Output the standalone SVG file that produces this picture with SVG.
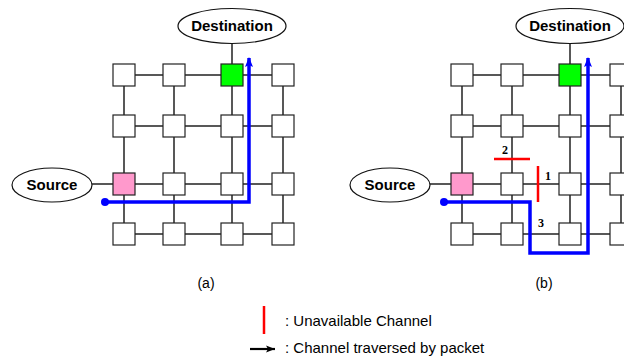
<svg xmlns="http://www.w3.org/2000/svg" width="624" height="356" viewBox="0 0 624 356">
<style>
.box{fill:#fff;stroke:#222;stroke-width:1.2}
.src{fill:#ff99cc}
.dst{fill:#00ff00}
.ell{fill:#fff;stroke:#111;stroke-width:1.2}
.link{stroke:#222;stroke-width:1.5;fill:none}
.path{stroke:#0000ff;stroke-width:3.5;fill:none;stroke-linejoin:miter}
.bad{stroke:#ff0000;stroke-width:2.5}
.lbl{font-family:"Liberation Sans",Arial,sans-serif;font-weight:bold;font-size:15px;text-anchor:middle}
.num{font-family:"Liberation Serif","Times New Roman",serif;font-weight:bold;font-size:12px}
.cap{font-family:"Liberation Sans",Arial,sans-serif;font-size:14px;text-anchor:middle}
.leg{font-family:"Liberation Sans",Arial,sans-serif;font-size:15px}
</style>
<defs>
<marker id="ab" markerUnits="userSpaceOnUse" markerWidth="10" markerHeight="10" viewBox="0 0 10 10" refX="9" refY="5" orient="auto">
<path d="M0,1 L10,5 L0,9 L2,5 Z" fill="#0000ff"/>
</marker>
<marker id="ak" markerUnits="userSpaceOnUse" markerWidth="9" markerHeight="8" viewBox="0 0 9 8" refX="9" refY="4" orient="auto">
<path d="M0,0.5 L9,4 L0,7.5 L2,4 Z" fill="#000"/>
</marker>
</defs>

<g id="connectors">
<path class="link" d="M124,75H283M124,126H283M92,184H283M124,234H283M124,75V234M174,75V234M232,43V234M283,75V234"/>
<path class="link" d="M462,75H630M462,126H630M430,184H630M462,234H630M462,75V234M512,75V234M570,43V234M621,75V234"/>
<path class="path" d="M105,202H249V58" marker-end="url(#ab)"/>
<circle cx="105" cy="202" r="4" fill="#0000ff"/>
<path class="path" d="M444,202H530V253H588V58" marker-end="url(#ab)"/>
<circle cx="444" cy="202" r="4" fill="#0000ff"/>
</g>

<g id="dest-a"><ellipse class="ell" cx="232" cy="26" rx="54" ry="17.5"/><text class="lbl" x="232" y="31">Destination</text></g>
<g id="source-a"><ellipse class="ell" cx="52" cy="185" rx="40" ry="17"/><text class="lbl" x="52" y="190">Source</text></g>
<g id="dest-b"><ellipse class="ell" cx="570" cy="26" rx="54" ry="17.5"/><text class="lbl" x="570" y="31">Destination</text></g>
<g id="source-b"><ellipse class="ell" cx="390" cy="185" rx="40" ry="17"/><text class="lbl" x="390" y="190">Source</text></g>

<g id="nodes-a">
<rect class="box" x="113" y="64" width="22" height="22"/>
<rect class="box" x="163" y="64" width="22" height="22"/>
<rect class="box dst" x="221" y="64" width="22" height="22"/>
<rect class="box" x="272" y="64" width="22" height="22"/>
<rect class="box" x="113" y="115" width="22" height="22"/>
<rect class="box" x="163" y="115" width="22" height="22"/>
<rect class="box" x="221" y="115" width="22" height="22"/>
<rect class="box" x="272" y="115" width="22" height="22"/>
<rect class="box src" x="113" y="173" width="22" height="22"/>
<rect class="box" x="163" y="173" width="22" height="22"/>
<rect class="box" x="221" y="173" width="22" height="22"/>
<rect class="box" x="272" y="173" width="22" height="22"/>
<rect class="box" x="113" y="223" width="22" height="22"/>
<rect class="box" x="163" y="223" width="22" height="22"/>
<rect class="box" x="221" y="223" width="22" height="22"/>
<rect class="box" x="272" y="223" width="22" height="22"/>
</g>

<g id="nodes-b">
<rect class="box" x="451" y="64" width="22" height="22"/>
<rect class="box" x="501" y="64" width="22" height="22"/>
<rect class="box dst" x="559" y="64" width="22" height="22"/>
<rect class="box" x="610" y="64" width="22" height="22"/>
<rect class="box" x="451" y="115" width="22" height="22"/>
<rect class="box" x="501" y="115" width="22" height="22"/>
<rect class="box" x="559" y="115" width="22" height="22"/>
<rect class="box" x="610" y="115" width="22" height="22"/>
<rect class="box src" x="451" y="173" width="22" height="22"/>
<rect class="box" x="501" y="173" width="22" height="22"/>
<rect class="box" x="559" y="173" width="22" height="22"/>
<rect class="box" x="610" y="173" width="22" height="22"/>
<rect class="box" x="451" y="223" width="22" height="22"/>
<rect class="box" x="501" y="223" width="22" height="22"/>
<rect class="box" x="559" y="223" width="22" height="22"/>
<rect class="box" x="610" y="223" width="22" height="22"/>
</g>

<g id="faults">
<line class="bad" x1="494" y1="159" x2="530" y2="159"/>
<line class="bad" x1="538" y1="166" x2="538" y2="202"/>
<text class="num" x="502" y="154">2</text>
<text class="num" x="545" y="180">1</text>
<text class="num" x="538" y="227">3</text>
</g>

<text class="cap" x="206" y="288">(a)</text>
<text class="cap" x="544" y="288">(b)</text>

<g id="legend">
<line class="bad" x1="264" y1="306" x2="264" y2="334"/>
<text class="leg" x="285" y="326">: Unavailable Channel</text>
<line x1="250" y1="349" x2="275" y2="349" stroke="#000" stroke-width="2.2" marker-end="url(#ak)"/>
<text class="leg" x="285" y="353">: Channel traversed by packet</text>
</g>
</svg>
